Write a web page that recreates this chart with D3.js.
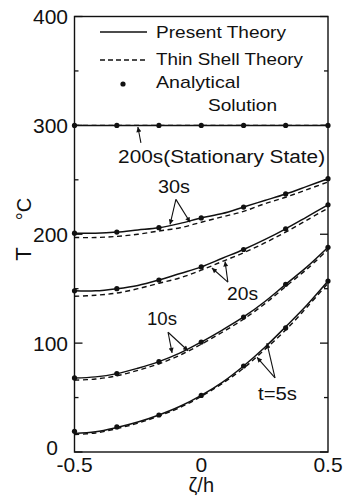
<!DOCTYPE html>
<html>
<head>
<meta charset="utf-8">
<script src="https://cdn.jsdelivr.net/npm/d3@7"></script>
<style>
  body { margin: 0; background: #fff; }
  text { font-family: "Liberation Sans", Arial, sans-serif; fill: #111; }
</style>
</head>
<body>
<div id="chart"></div>
<script>
// ζ/h positions of the analytical points
const pointX = [-0.5, -0.333, -0.167, 0, 0.167, 0.333, 0.5];
// analytical solution (dots)
const dots200 = [300, 300, 300, 300, 300, 300, 300];
const dots30 = [201, 202, 206, 215, 225, 237, 251];
const dots20 = [148, 150, 158, 170, 186, 205, 227];
const dots10 = [68, 72, 83, 101, 124, 154, 188];
const dots5 = [19, 23, 34, 52, 79, 114, 157];

// finer ζ/h positions for the curves
const curveX = [-0.5, -0.417, -0.333, -0.25, -0.167, -0.083, 0, 0.083, 0.167, 0.25, 0.333, 0.417, 0.5];
// present theory (solid)
const present200 = [300, 300, 300, 300, 300, 300, 300, 300, 300, 300, 300, 300, 300];
const present30 = [201, 201, 202, 204, 206, 210, 215, 219, 225, 231, 237, 244, 251];
const present20 = [148, 148, 150, 153, 158, 164, 170, 178, 186, 195, 205, 216, 227];
const present10 = [68, 69, 72, 77, 83, 91, 101, 112, 124, 138, 154, 170, 188];
const present5 = [17, 18.5, 22.5, 27.5, 34, 42, 52, 64, 79, 96, 115, 135, 157];
// thin shell theory (dashed)
const thin200 = [300, 300, 300, 300, 300, 300, 300, 300, 300, 300, 300, 300, 300];
const thin30 = [197, 197, 198, 200, 203, 206, 211, 216, 221, 228, 234, 241, 248];
const thin20 = [143, 144, 146, 150, 155, 160, 167, 175, 183, 192, 202, 213, 224];
const thin10 = [66, 67, 70, 75, 81, 89, 99, 110, 122, 136, 152, 168, 186];
const thin5 = [16, 17.5, 21.5, 26.5, 33, 41, 51, 63, 77, 94, 112, 133, 155];

const yTicks = [0, 100, 200, 300, 400];
const yMinorTicks = [50, 150, 250, 350];
const xTicks = [-0.5, 0, 0.5];

// labels with arrows, in data units
const notes = [
  {text: "200s(Stationary State)", x: -0.328, y: 265, len: 207, from: [-0.238, 284], to: [[-0.250, 298.5]]},
  {text: "30s", x: -0.171, y: 238, len: 32, from: [-0.100, 232], to: [[-0.123, 209], [-0.044, 211]]},
  {text: "20s", x: 0.102, y: 140, len: 31, from: [0.105, 156], to: [[0.042, 169], [0.094, 175]]},
  {text: "10s", x: -0.214, y: 117, len: 30, from: [-0.131, 110], to: [[-0.115, 91], [-0.052, 93]]},
  {text: "t=5s", x: 0.224, y: 48, len: 39, from: [0.291, 68], to: [[0.220, 87], [0.259, 100]]}
];

const width = 348, height = 497;
const plotLeft = 74.5, plotRight = 328, plotTop = 16.5, plotBottom = 452;

const svg = d3.select("#chart").append("svg")
  .attr("width", width)
  .attr("height", height);

svg.append("defs").append("marker")
  .attr("id", "head")
  .attr("viewBox", "0 0 10 10")
  .attr("refX", 10).attr("refY", 5)
  .attr("markerWidth", 8).attr("markerHeight", 5)
  .attr("markerUnits", "userSpaceOnUse")
  .attr("orient", "auto")
  .append("path")
  .attr("d", "M0,0 L10,5 L0,10 Z")
  .attr("fill", "#111");

const x = d3.scaleLinear().domain([-0.5, 0.5]).range([plotLeft, plotRight]);
const y = d3.scaleLinear().domain([0, 400]).range([plotBottom, plotTop]);

// frame
svg.append("rect")
  .attr("x", plotLeft).attr("y", plotTop)
  .attr("width", plotRight - plotLeft).attr("height", plotBottom - plotTop)
  .attr("fill", "none").attr("stroke", "#111").attr("stroke-width", 1.4);

// ticks pointing inward, both sides
const tickG = svg.append("g").attr("stroke", "#111").attr("stroke-width", 1.3);
[[yTicks, 8], [yMinorTicks, 4]].forEach(([ticks, len]) => {
  tickG.selectAll(null).data(ticks).enter().append("line")
    .attr("x1", plotLeft).attr("x2", plotLeft + len)
    .attr("y1", d => y(d)).attr("y2", d => y(d));
  tickG.selectAll(null).data(ticks).enter().append("line")
    .attr("x1", plotRight).attr("x2", plotRight - len)
    .attr("y1", d => y(d)).attr("y2", d => y(d));
});

// tick labels (the "0" sits a little left and up, clear of "-0.5")
svg.append("g").selectAll("text").data(yTicks).enter().append("text")
  .attr("x", d => d === 0 ? 58 : 68)
  .attr("y", d => y(d) + (d === 0 ? 3 : 7.5))
  .attr("text-anchor", "end")
  .style("font-size", "21px")
  .text(d => d);
svg.append("g").selectAll("text").data(xTicks).enter().append("text")
  .attr("x", d => x(d)).attr("y", 472)
  .attr("text-anchor", "middle")
  .style("font-size", "21px")
  .text(d => d === 0 ? "0" : d3.format(".1f")(d).replace("−", "-"));

// axis titles
svg.append("text")
  .attr("transform", `translate(${x(0)},492)`)
  .attr("text-anchor", "middle")
  .style("font-size", "20px")
  .text("ζ/h");
svg.append("text")
  .attr("transform", "translate(31,254) rotate(-90)")
  .attr("text-anchor", "middle")
  .style("font-size", "22px")
  .text("T");
svg.append("text")
  .attr("transform", "translate(31,209) rotate(-90)")
  .attr("text-anchor", "middle")
  .style("font-size", "20px")
  .text("°C");

// curves
const line = d3.line()
  .x(d => x(d[0]))
  .y(d => y(d[1]))
  .curve(d3.curveCatmullRom);

const presentSeries = [present200, present30, present20, present10, present5];
const thinSeries = [thin200, thin30, thin20, thin10, thin5];
const dotSeries = [dots200, dots30, dots20, dots10, dots5];

svg.append("g").selectAll("path").data(thinSeries).enter().append("path")
  .attr("d", s => line(curveX.map((v, i) => [v, s[i]])))
  .attr("fill", "none").attr("stroke", "#111")
  .attr("stroke-width", 1.4).attr("stroke-dasharray", "5,3.5");

svg.append("g").selectAll("path").data(presentSeries).enter().append("path")
  .attr("d", s => line(curveX.map((v, i) => [v, s[i]])))
  .attr("fill", "none").attr("stroke", "#111")
  .attr("stroke-width", 1.5);

svg.append("g").selectAll("g").data(dotSeries).enter().append("g")
  .selectAll("circle")
  .data(s => pointX.map((v, i) => [v, s[i]]))
  .enter().append("circle")
  .attr("cx", d => x(d[0])).attr("cy", d => y(d[1]))
  .attr("r", 2.6).attr("fill", "#111");

// annotations
const noteG = svg.append("g");
notes.forEach(n => {
  noteG.append("text")
    .attr("x", x(n.x)).attr("y", y(n.y))
    .attr("textLength", n.len).attr("lengthAdjust", "spacingAndGlyphs")
    .style("font-size", "18px")
    .text(n.text);
  n.to.forEach(t => {
    noteG.append("line")
      .attr("x1", x(n.from[0])).attr("y1", y(n.from[1]))
      .attr("x2", x(t[0])).attr("y2", y(t[1]))
      .attr("stroke", "#111").attr("stroke-width", 1.1)
      .attr("marker-end", "url(#head)");
  });
});

// legend
const lg = svg.append("g");
lg.append("line").attr("x1", 100).attr("x2", 147).attr("y1", 32).attr("y2", 32)
  .attr("stroke", "#111").attr("stroke-width", 1.5);
lg.append("line").attr("x1", 100).attr("x2", 147).attr("y1", 60).attr("y2", 60)
  .attr("stroke", "#111").attr("stroke-width", 1.4).attr("stroke-dasharray", "5,3");
lg.append("circle").attr("cx", 123).attr("cy", 84).attr("r", 2.6).attr("fill", "#111");
const legendText = [
  ["Present Theory", 156, 38, 130],
  ["Thin Shell Theory", 156, 65, 147],
  ["Analytical", 156, 88, 84],
  ["Solution", 208, 111, 69]
];
lg.selectAll("text").data(legendText).enter().append("text")
  .attr("x", d => d[1]).attr("y", d => d[2])
  .attr("textLength", d => d[3]).attr("lengthAdjust", "spacingAndGlyphs")
  .style("font-size", "17px")
  .text(d => d[0]);
</script>
</body>
</html>
